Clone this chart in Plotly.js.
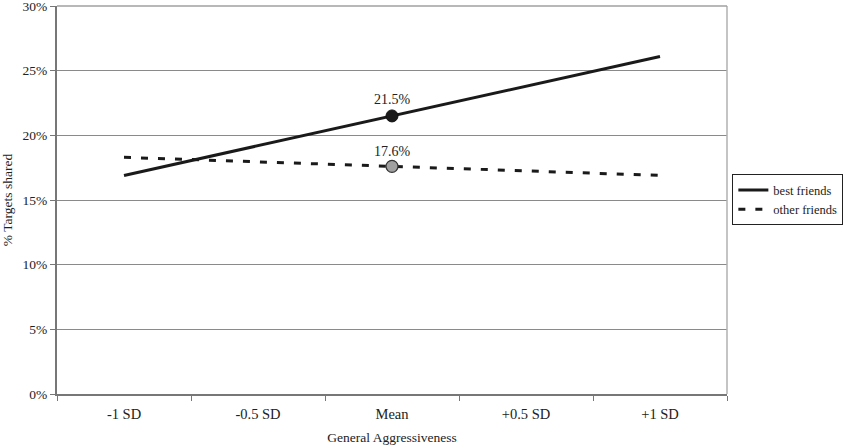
<!DOCTYPE html>
<html>
<head>
<meta charset="utf-8">
<script src="https://cdn.plot.ly/plotly-3.0.1.min.js"></script>
<style>
    body { margin: 0; background: #fff; }
    #chart { width: 850px; height: 446px; }
</style>
</head>
<body>
<div id="chart"></div>
<script>
// values
const categories = ["-1 SD", "-0.5 SD", "Mean", "+0.5 SD", "+1 SD"];
const best_friends = [16.9, 19.2, 21.5, 23.8, 26.1];
const other_friends = [18.3, 17.95, 17.6, 17.25, 16.9];
const mean_index = 2;
const y_ticks = [0, 5, 10, 15, 20, 25, 30];

const font_family = "Liberation Serif, Times New Roman, serif";

let data = [
    {
        x: categories,
        y: best_friends,
        name: "best friends",
        mode: "lines",
        line: {color: "#1a1a1a", width: 3},
    },
    {
        x: categories,
        y: other_friends,
        name: "other friends",
        mode: "lines",
        line: {color: "#1a1a1a", width: 3, dash: "7px,10px"},
    },
    // markers at the mean only
    {
        x: [categories[mean_index]],
        y: [best_friends[mean_index]],
        mode: "markers",
        showlegend: false,
        marker: {color: "#1a1a1a", size: 12, line: {color: "#111", width: 1}},
    },
    {
        x: [categories[mean_index]],
        y: [other_friends[mean_index]],
        mode: "markers",
        showlegend: false,
        marker: {color: "#a0a0a0", size: 12, line: {color: "#333", width: 1.2}},
    },
];

let layout = {
    width: 850,
    height: 446,
    margin: {l: 57, r: 123, t: 6, b: 52},
    paper_bgcolor: "#fff",
    plot_bgcolor: "#fff",
    font: {family: font_family, color: "#222", size: 13},
    showlegend: true,
    legend: {
        x: 1.008, xanchor: "left",
        y: 0.566, yanchor: "top",
        bordercolor: "#222", borderwidth: 1,
        font: {family: font_family, size: 12.5, color: "#222"},
        tracegroupgap: 0,
        itemwidth: 30,
    },
    xaxis: {
        type: "category",
        range: [-0.5, categories.length - 0.5],
        tickson: "boundaries",
        ticks: "outside",
        ticklen: 5,
        tickcolor: "#777",
        ticklabelstandoff: 6,
        showline: true,
        linecolor: "#777",
        linewidth: 2,
        showgrid: false,
        zeroline: false,
        tickfont: {family: font_family, size: 14.5, color: "#222"},
        title: {text: "General Aggressiveness", font: {family: font_family, size: 13.5, color: "#222"}, standoff: 11},
    },
    yaxis: {
        range: [0, 30],
        tickvals: y_ticks,
        ticktext: y_ticks.map(v => v + "%"),
        ticklabeloverflow: "allow",
        ticks: "outside",
        ticklen: 5,
        tickcolor: "#777",
        showline: true,
        linecolor: "#777",
        linewidth: 2,
        gridcolor: "#8a8a8a",
        gridwidth: 1,
        zeroline: false,
        tickfont: {family: font_family, size: 13.5, color: "#222"},
        title: {text: "% Targets shared", font: {family: font_family, size: 13.5, color: "#222"}, standoff: 7},
    },
    shapes: [
        {type: "line", xref: "paper", yref: "paper", x0: 1, x1: 1, y0: 0, y1: 1,
         line: {color: "#b0b0b0", width: 1.5}},
        {type: "line", xref: "paper", yref: "paper", x0: 0, x1: 1, y0: 1, y1: 1,
         line: {color: "#a0a0a0", width: 1.5}},
    ],
    annotations: [
        {x: categories[mean_index], y: best_friends[mean_index], text: best_friends[mean_index].toFixed(1) + "%",
         showarrow: false, yshift: 16, font: {family: font_family, size: 14, color: "#222"}},
        {x: categories[mean_index], y: other_friends[mean_index], text: other_friends[mean_index].toFixed(1) + "%",
         showarrow: false, yshift: 15, font: {family: font_family, size: 14, color: "#222"}},
    ],
};

Plotly.newPlot("chart", data, layout, {staticPlot: true});
</script>
</body>
</html>
